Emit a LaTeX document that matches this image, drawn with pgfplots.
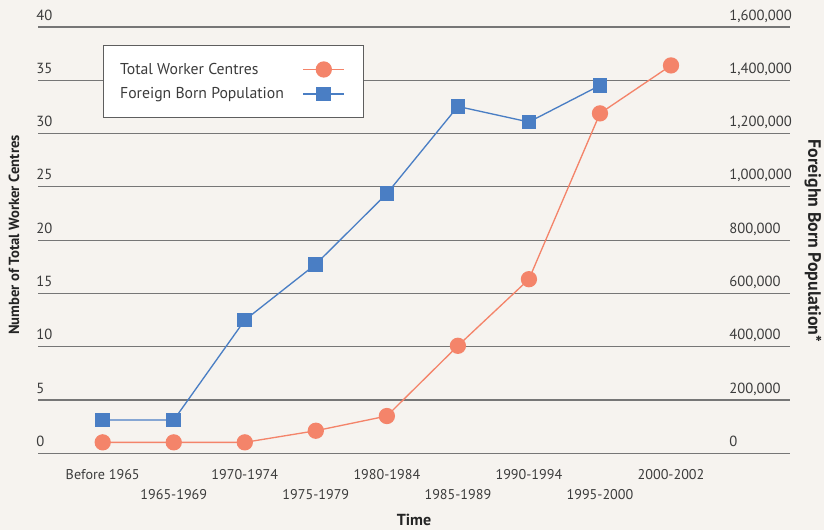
\documentclass[border=0pt]{standalone}
\usepackage{pgfplots}
\pgfplotsset{compat=1.18}
\usepackage{fontspec}
\setmainfont{PT Sans}
\definecolor{bg}{HTML}{F6F3EF}
\definecolor{orng}{HTML}{F4846A}
\definecolor{blu}{HTML}{4A7EC4}
\definecolor{gridc}{HTML}{767676}
\definecolor{txt}{HTML}{3C3C3C}
\begin{document}
\begin{tikzpicture}[x=0.75pt,y=0.75pt]
\path[use as bounding box, fill=bg] (0,0) rectangle (824,530);
\pgfplotsset{
  base/.style={
    at={(28.5pt,57.5pt)}, anchor=south west,
    scale only axis, width=564pt, height=319.7pt,
    xmin=-0.911, xmax=9.675,
    axis line style={draw=none},
    major tick length=0pt,
    tick label style={font=\fontsize{11}{13}\selectfont, text=txt},
    /pgf/number format/assume math mode=true,
    clip=false,
  }
}
\begin{axis}[base,
  ymin=0, ymax=40, ytick={0,5,...,40},
  ymajorgrids, grid style={gridc, line width=0.85pt},
  yticklabel style={inner sep=0pt, anchor=base west, xshift=-1.5pt, yshift=5.25pt},
  xtick={0,...,8},
  xticklabels={Before 1965, \raisebox{-14.3pt}{1965-1969}, 1970-1974, \raisebox{-14.3pt}{1975-1979}, 1980-1984, \raisebox{-14.3pt}{1985-1989}, 1990-1994, \raisebox{-14.3pt}{1995-2000}, 2000-2002},
  xticklabel style={inner sep=0pt, anchor=base, yshift=-20pt, font=\fontsize{10.6}{12}\selectfont},
]
\addplot[orng, line width=1pt, mark=*, mark size=5.6pt, mark options={fill=orng, draw=none}]
  coordinates {(0,1.03) (1,1.03) (2,1.03) (3,2.12) (4,3.5) (5,10.09) (6,16.34) (7,31.9) (8,36.4)};
\end{axis}
\begin{axis}[base,
  ymin=0, ymax=1600000, ytick={0,200000,...,1600000},
  axis y line*=right, axis x line=none,
  scaled y ticks=false,
  yticklabel style={inner sep=0pt, anchor=base west, xshift=-45.75pt, yshift=5.25pt, /pgf/number format/.cd, fixed, 1000 sep={,}},
  legend style={at={(rel axis cs:0.0864,0.9578)}, anchor=north west, draw=gridc!80!black, line width=0.75pt, fill=white,
    font=\fontsize{11.8}{14}\selectfont, text=txt, inner xsep=10.5pt, inner ysep=11pt, row sep=4.5pt,
    /tikz/every odd column/.append style={column sep=12pt}},
  legend plot pos=right, legend cell align=left,
  legend image code/.code={\draw[mark repeat=2,mark phase=2] plot coordinates {(0pt,0pt) (15.4pt,0pt) (30.75pt,0pt)}; \path (34.5pt,0pt);},
]
\addlegendimage{orng, line width=1pt, mark=*, mark size=5.6pt, mark options={fill=orng, draw=none}}
\addlegendentry{Total Worker Centres}
\addplot[blu, line width=1pt, mark=square*, mark size=5pt, mark options={fill=blu, draw=none}]
  coordinates {(0,125000) (1,125000) (2,500000) (3,710000) (4,975000) (5,1302000) (6,1243600) (7,1381000)};
\addlegendentry{Foreign Born Population}
\end{axis}
\node[font=\bfseries\fontsize{11}{13}\selectfont, text=txt!60!black, rotate=90] at (14,295) {Number of Total Worker Centres};
\node[font=\bfseries\fontsize{13.4}{15}\selectfont, text=txt!60!black, rotate=-90] at (813,289) {Foreighn Born Population*};
\node[font=\bfseries\fontsize{12}{14}\selectfont, text=txt!60!black] at (414,10) {Time};
\end{tikzpicture}
\end{document}
